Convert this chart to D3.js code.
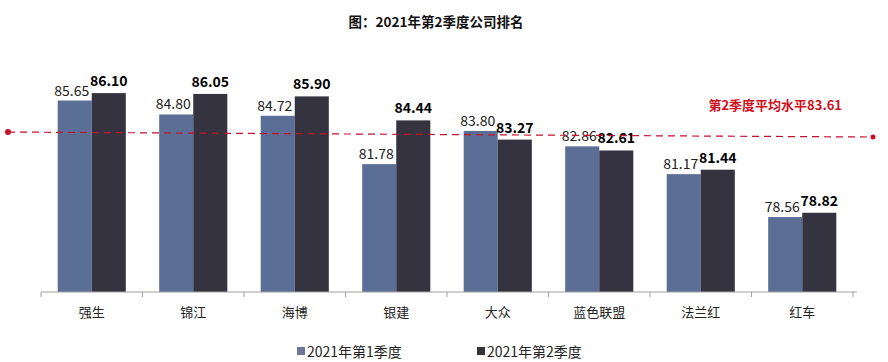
<!DOCTYPE html>
<html><head><meta charset="utf-8">
<script src="https://cdn.jsdelivr.net/npm/d3@7/dist/d3.min.js"></script>
<style>body{margin:0;background:#fff;}svg{display:block;font-family:"Noto Sans CJK SC","Noto Sans",sans-serif;}</style>
</head><body>
<svg id="c" width="888" height="362"></svg>
<script>
const categories = ["强生","锦江","海博","银建","大众","蓝色联盟","法兰红","红车"];
const q1Values = [85.65,84.80,84.72,81.78,83.80,82.86,81.17,78.56];
const q2Values = [86.10,86.05,85.90,84.44,83.27,82.61,81.44,78.82];
const seriesNames = ["2021年第1季度","2021年第2季度"];
const average = 83.61;
const title = "图：2021年第2季度公司排名";
const avgLabel = "第2季度平均水平83.61";

const colors = ["#5b6f96","#34333f"];
const svg = d3.select("#c");
const x0 = d3.scaleBand().domain(categories).range([41,853]).padding(0);
const x1 = d3.scaleBand().domain([0,1]).range([0,x0.bandwidth()]).paddingInner(0).paddingOuter(0.49);
const y = d3.scaleLinear().domain([74,90]).range([292,29]);

svg.append("text").attr("x",436).attr("y",27).attr("text-anchor","middle")
  .attr("font-size",13.5).attr("font-weight","bold").attr("fill","#111").text(title);

const data = categories.map((c,i)=>({c, v:[q1Values[i],q2Values[i]]}));
const g = svg.append("g");
const grp = g.selectAll("g").data(data).join("g").attr("transform",d=>`translate(${x0(d.c)},0)`);
grp.selectAll("rect").data(d=>d.v.map((v,k)=>({v,k}))).join("rect")
  .attr("x",d=>x1(d.k)).attr("width",x1.bandwidth())
  .attr("y",d=>y(d.v)).attr("height",d=>y(74)-y(d.v))
  .attr("fill",d=>colors[d.k]);
grp.selectAll("text").data(d=>d.v.map((v,k)=>({v,k}))).join("text")
  .attr("x",d=>x1(d.k)+x1.bandwidth()/2 - (d.k===0?3:0)).attr("y",d=>y(d.v)-(d.k===0?5:7))
  .attr("text-anchor","middle").attr("font-size",14)
  .attr("font-weight",d=>d.k===1?"bold":"normal")
  .attr("fill",d=>d.k===1?"#000":"#222")
  .text(d=>d.v.toFixed(2));

// axis
const ax = svg.append("g").attr("transform",`translate(0,${y(74)})`);
ax.append("line").attr("x1",41).attr("x2",857).attr("stroke","#a0a0a0").attr("stroke-width",1);
const bounds = categories.map(c=>x0(c)).concat([x0.range()[1]]);
ax.selectAll("line.t").data(bounds).join("line").attr("class","t")
  .attr("x1",d=>d).attr("x2",d=>d).attr("y1",0).attr("y2",5).attr("stroke","#a0a0a0");
ax.selectAll("text").data(categories).join("text")
  .attr("x",d=>x0(d)+x0.bandwidth()/2).attr("y",25).attr("text-anchor","middle")
  .attr("font-size",13).attr("fill","#222").text(d=>d);

// average line (slightly slanted like the reference)
const ya = y(average);
svg.append("line").attr("x1",8).attr("x2",873).attr("y1",ya-2).attr("y2",ya+3)
  .attr("stroke","#c8102e").attr("stroke-width",1.2).attr("stroke-dasharray","7,5");
svg.append("circle").attr("cx",8).attr("cy",ya-2).attr("r",3).attr("fill","#c8102e");
svg.append("circle").attr("cx",873).attr("cy",ya+3).attr("r",2.5).attr("fill","#c8102e");
svg.append("text").attr("x",842).attr("y",ya-24).attr("text-anchor","end")
  .attr("font-size",13).attr("font-weight","bold").attr("fill","#d0101e").text(avgLabel);

// legend
const lg = svg.append("g");
const lx = [297,477];
seriesNames.forEach((s,i)=>{
  lg.append("rect").attr("x",lx[i]).attr("y",347).attr("width",8).attr("height",8).attr("fill",i===0?"#6b7898":"#333338");
  lg.append("text").attr("x",lx[i]+10).attr("y",357).attr("font-size",14).attr("fill","#222").text(s);
});
</script>
</body></html>
